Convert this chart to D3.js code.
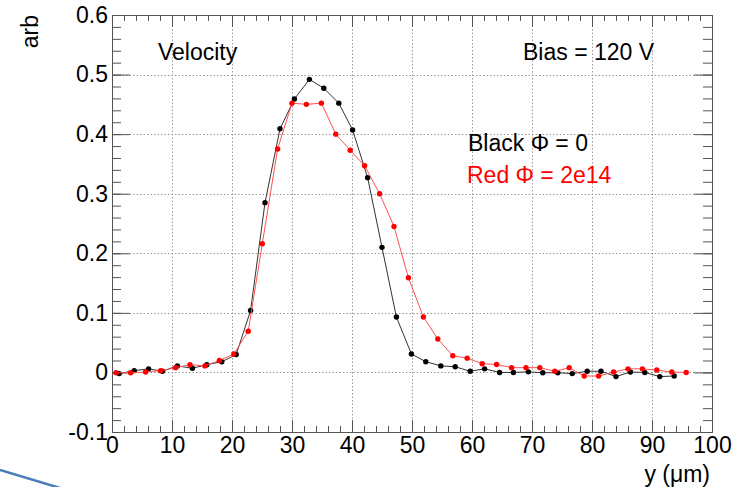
<!DOCTYPE html>
<html lang="en">
<head>
    <meta charset="UTF-8">
    <title>Velocity</title>
    <script src="https://d3js.org/d3.v7.min.js"></script>
    <style>
        body { margin: 0; background: #fff; }
        svg text { font-family: "Liberation Sans", Arial, sans-serif; }
    </style>
</head>
<body>
<svg width="744" height="487"></svg>

<script>
    // black: unirradiated, red: phi = 2e14
    const blackX = [1.2, 3.7, 6.1, 8.4, 10.9, 13.4, 15.8, 18.3, 20.7, 23.1, 25.5, 28, 30.4, 32.9, 35.3, 37.8, 40.1, 42.6, 45, 47.4,
        49.9, 52.3, 54.8, 57.2, 59.7, 62.1, 64.6, 66.9, 69.4, 71.8, 74.3, 76.7, 79.2, 81.5, 84, 86.4, 88.8, 91.3, 93.7];
    const blackY = [-0.002, 0.003, 0.006, 0.002, 0.011, 0.007, 0.013, 0.018, 0.030, 0.104, 0.285, 0.409, 0.459, 0.492, 0.477, 0.452,
        0.407, 0.327, 0.210, 0.093, 0.031, 0.018, 0.011, 0.0095, 0.002, 0.006, 0.000, 0.000, 0.001, -0.0005, -0.0005, -0.002,
        0.002, 0.002, -0.007, 0.0006, 0.000, -0.007, -0.006];
    const redX = [0.67, 3.1, 5.6, 8.1, 10.6, 13, 15.5, 17.9, 20.3, 22.7, 25.05, 27.6, 30, 32.4, 34.9, 37.3, 39.7, 42.1, 44.6, 47,
        49.4, 51.9, 54.3, 56.8, 59.2, 61.7, 64.1, 66.6, 69, 71.3, 73.8, 76.2, 78.7, 81.1, 83.6, 86, 88.4, 90.8, 93.3, 95.7];
    const redY = [-0.0005, -0.0005, 0.0006, 0.003, 0.008, 0.013, 0.011, 0.020, 0.031, 0.069, 0.216, 0.375, 0.452, 0.450, 0.452,
        0.400, 0.373, 0.347, 0.300, 0.245, 0.159, 0.093, 0.056, 0.028, 0.024, 0.0146, 0.0134, 0.008, 0.008, 0.008, 0.002,
        0.008, -0.006, -0.006, 0.0006, 0.006, 0.006, 0.004, 0.0006, 0.000];

    const xTicks = [0, 10, 20, 30, 40, 50, 60, 70, 80, 90, 100];
    const yTicks = [-0.1, 0, 0.1, 0.2, 0.3, 0.4, 0.5, 0.6];
    const yTickLabels = ["-0.1", "0", "0.1", "0.2", "0.3", "0.4", "0.5", "0.6"];

    const svg = d3.select("svg");
    const frame = { left: 112, right: 712, top: 15, bottom: 432 };

    const x = d3.scaleLinear().domain([0, 100]).range([frame.left, frame.right]);
    const y = d3.scaleLinear().domain([-0.1, 0.6]).range([frame.bottom, frame.top]);

    const frameColor = "#555";

    // grid
    const grid = svg.append("g").attr("stroke", "#999").attr("stroke-dasharray", "1.5,2").attr("stroke-width", 1);
    grid.selectAll(".gx").data(xTicks.slice(1, -1)).enter().append("line")
        .attr("x1", d => Math.round(x(d)) + 0.5).attr("x2", d => Math.round(x(d)) + 0.5)
        .attr("y1", frame.top).attr("y2", frame.bottom);
    grid.selectAll(".gy").data(yTicks.slice(1, -1)).enter().append("line")
        .attr("y1", d => Math.round(y(d)) + 0.5).attr("y2", d => Math.round(y(d)) + 0.5)
        .attr("x1", frame.left).attr("x2", frame.right);

    // axes, ROOT style ticks inside the frame
    const xMinor = d3.range(0, 101, 2);
    const yMinor = d3.range(-0.1, 0.6001, 0.02);

    const xb = svg.append("g").attr("transform", `translate(0,${frame.bottom})`)
        .call(d3.axisBottom(x).tickValues(xMinor).tickSize(-6).tickFormat(""));
    const xb2 = svg.append("g").attr("transform", `translate(0,${frame.bottom})`)
        .call(d3.axisBottom(x).tickValues(xTicks).tickSize(-12).tickPadding(5).tickFormat(d3.format("d")));
    const xt = svg.append("g").attr("transform", `translate(0,${frame.top})`)
        .call(d3.axisTop(x).tickValues(xMinor).tickSize(-6).tickFormat(""));
    const xt2 = svg.append("g").attr("transform", `translate(0,${frame.top})`)
        .call(d3.axisTop(x).tickValues(xTicks).tickSize(-12).tickFormat(""));
    const yl = svg.append("g").attr("transform", `translate(${frame.left},0)`)
        .call(d3.axisLeft(y).tickValues(yMinor).tickSize(-9).tickFormat(""));
    const yl2 = svg.append("g").attr("transform", `translate(${frame.left},0)`)
        .call(d3.axisLeft(y).tickValues(yTicks).tickSize(-18).tickPadding(4)
            .tickFormat((d, i) => yTickLabels[i]));
    const yr = svg.append("g").attr("transform", `translate(${frame.right},0)`)
        .call(d3.axisRight(y).tickValues(yMinor).tickSize(-9).tickFormat(""));
    const yr2 = svg.append("g").attr("transform", `translate(${frame.right},0)`)
        .call(d3.axisRight(y).tickValues(yTicks).tickSize(-18).tickFormat(""));

    [xb, xb2, xt, xt2, yl, yl2, yr, yr2].forEach(g => {
        g.selectAll(".domain").attr("stroke", frameColor);
        g.selectAll(".tick line").attr("stroke", frameColor);
        g.selectAll("text").attr("fill", "#000").attr("font-size", 23)
            .attr("font-family", "Liberation Sans, Arial, sans-serif");
    });

    // axis titles
    svg.append("text").attr("transform", "translate(38,15) rotate(-90)")
        .attr("text-anchor", "end").attr("font-size", 23).text("arb");
    svg.append("text").attr("x", 710).attr("y", 482)
        .attr("text-anchor", "end").attr("font-size", 23).text("y (\u03bcm)");

    // series
    const line = d3.line().x(d => x(d[0])).y(d => y(d[1]));
    const blackData = blackX.map((v, i) => [v, blackY[i]]);
    const redData = redX.map((v, i) => [v, redY[i]]);

    svg.append("path").datum(blackData).attr("d", line)
        .attr("fill", "none").attr("stroke", "#333").attr("stroke-width", 1);
    svg.append("g").selectAll("circle").data(blackData).enter().append("circle")
        .attr("cx", d => x(d[0])).attr("cy", d => y(d[1])).attr("r", 2.7).attr("fill", "#000");

    svg.append("path").datum(redData).attr("d", line)
        .attr("fill", "none").attr("stroke", "#ff5050").attr("stroke-width", 1);
    svg.append("g").selectAll("circle").data(redData).enter().append("circle")
        .attr("cx", d => x(d[0])).attr("cy", d => y(d[1])).attr("r", 2.7).attr("fill", "#ff0000");

    // labels
    svg.append("text").attr("x", 158).attr("y", 60).attr("font-size", 23).text("Velocity");
    svg.append("text").attr("x", 523).attr("y", 60).attr("font-size", 23).text("Bias = 120 V");
    svg.append("text").attr("x", 468).attr("y", 151).attr("font-size", 23).text("Black \u03a6 = 0");
    svg.append("text").attr("x", 467).attr("y", 183).attr("font-size", 23).attr("fill", "#ff0000")
        .text("Red \u03a6 = 2e14");

    // stray slide connector at the bottom left
    svg.append("line").attr("x1", 0).attr("y1", 470).attr("x2", 60).attr("y2", 488)
        .attr("stroke", "#4a7ebb").attr("stroke-width", 2.5);
</script>
</body>
</html>
